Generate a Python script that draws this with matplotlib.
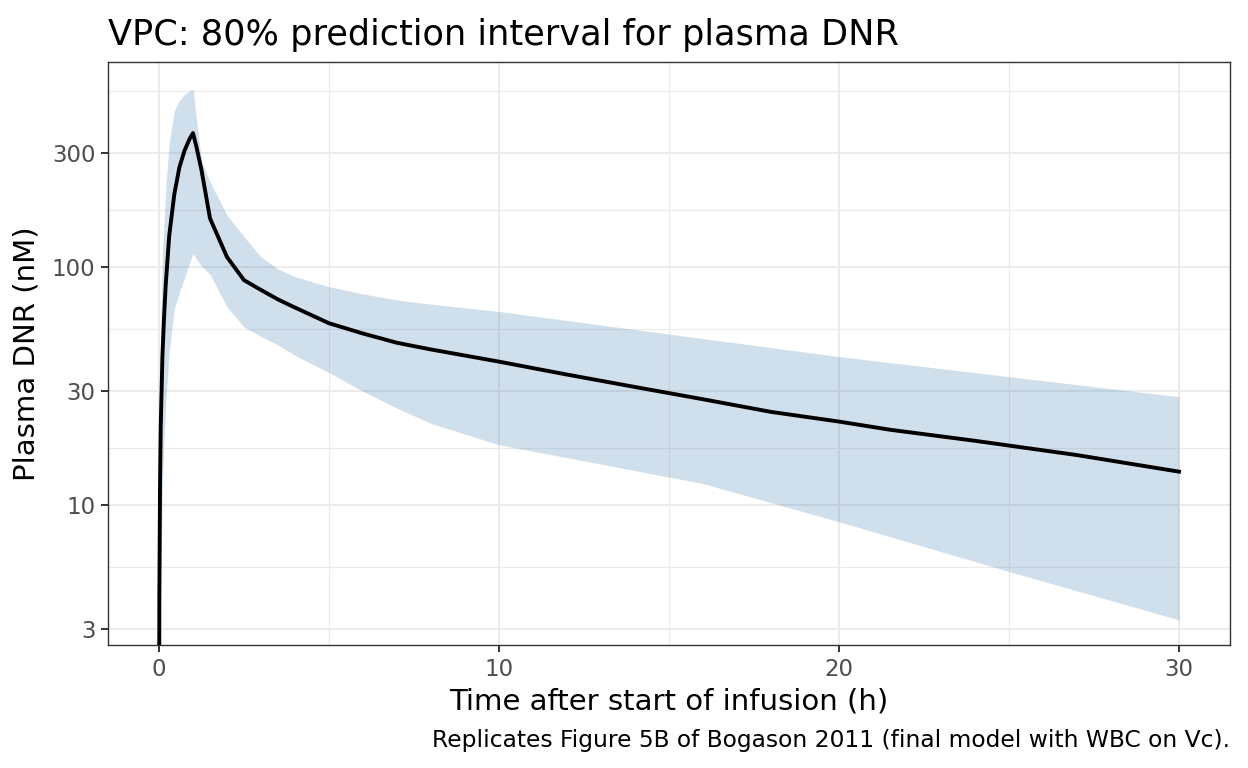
import matplotlib
matplotlib.use("Agg")
import matplotlib.pyplot as plt
from matplotlib.ticker import FixedLocator, NullFormatter

# median of simulated plasma DNR (nM)
line_time = [0, 0.01, 0.03, 0.05, 0.1, 0.15, 0.2, 0.3, 0.45, 0.6, 0.75, 0.9, 1.0,
             1.1, 1.25, 1.5, 2, 2.5, 3, 3.5, 4, 5, 6, 7, 8, 10, 12, 14, 16, 18,
             20, 21.5, 24, 27, 30]
median = [0.5, 4, 12, 21, 42, 62, 85, 135, 202, 262, 308, 345, 365,
          320, 255, 160, 110, 88, 80, 73, 67.5, 58, 52.5, 48, 45, 40, 35.3, 31.3, 27.8, 24.6,
          22.4, 20.7, 18.6, 16.2, 13.8]

# 80% prediction interval (10th / 90th percentiles)
band_time = [0, 0.01, 0.03, 0.05, 0.1, 0.15, 0.2, 0.3, 0.45, 0.6, 0.75, 0.9, 1.0,
             1.1, 1.25, 1.5, 2, 2.5, 3, 3.5, 4, 5, 6, 7, 8, 10, 16, 20, 25, 30]
upper = [0.5, 6, 25, 55, 115, 155, 218, 331, 454, 500, 530, 550, 558,
         420, 280, 228, 165, 134, 110, 98, 91, 82.6, 77, 72.6, 69.8, 65, 50, 42, 34.6, 28.5]
lower = [0.5, 1.5, 3, 5, 12, 19.5, 27, 44, 67, 78, 90, 104, 114,
         108, 101, 93, 68, 56, 51, 47, 42.5, 36, 30, 25.5, 22, 17.9, 12.3, 8.5, 5.25, 3.29]

y_breaks = [3, 10, 30, 100, 300]
y_minor = [1.73, 5.48, 17.3, 54.8, 173, 548]
x_breaks = [0, 10, 20, 30]
x_minor = [5, 15, 25]

fig = plt.figure(figsize=(12.48, 7.68), dpi=100)
ax = fig.add_axes([108/1248, 1 - 645/768, (1230-108)/1248, (645-62)/768])

ax.set_yscale("log")
ax.set_xlim(-1.5, 31.5)
ax.set_ylim(2.58, 726)

ax.xaxis.set_major_locator(FixedLocator(x_breaks))
ax.xaxis.set_minor_locator(FixedLocator(x_minor))
ax.yaxis.set_major_locator(FixedLocator(y_breaks))
ax.yaxis.set_minor_locator(FixedLocator(y_minor))
ax.yaxis.set_minor_formatter(NullFormatter())
ax.set_yticklabels([str(b) for b in y_breaks])
ax.set_xticklabels([str(b) for b in x_breaks])

ax.grid(True, which="major", color="#ebebeb", lw=1.5)
ax.grid(True, which="minor", color="#ebebeb", lw=0.8)
ax.set_axisbelow(True)

ax.fill_between(band_time, lower, upper, color="steelblue", alpha=0.25, lw=0, zorder=2)
ax.plot(line_time, median, color="black", lw=2.8, zorder=3, solid_joinstyle="round")

for s in ax.spines.values():
    s.set_color("#333333")
    s.set_linewidth(1.0)

ax.tick_params(which="major", length=5, width=1.4, color="#333333",
               labelsize=16.5, labelcolor="#4d4d4d", pad=4)
ax.tick_params(which="minor", length=0)

ax.set_xlabel("Time after start of infusion (h)", fontsize=21, labelpad=5)
ax.set_ylabel("Plasma DNR (nM)", fontsize=21, labelpad=8)
ax.set_title("VPC: 80% prediction interval for plasma DNR", loc="left",
             fontsize=25.3, pad=12)
fig.text(1230/1248, 1 - 741/768, "Replicates Figure 5B of Bogason 2011 (final model with WBC on Vc).",
         ha="right", va="center", fontsize=16.8)

fig.savefig("out.png", dpi=100)
